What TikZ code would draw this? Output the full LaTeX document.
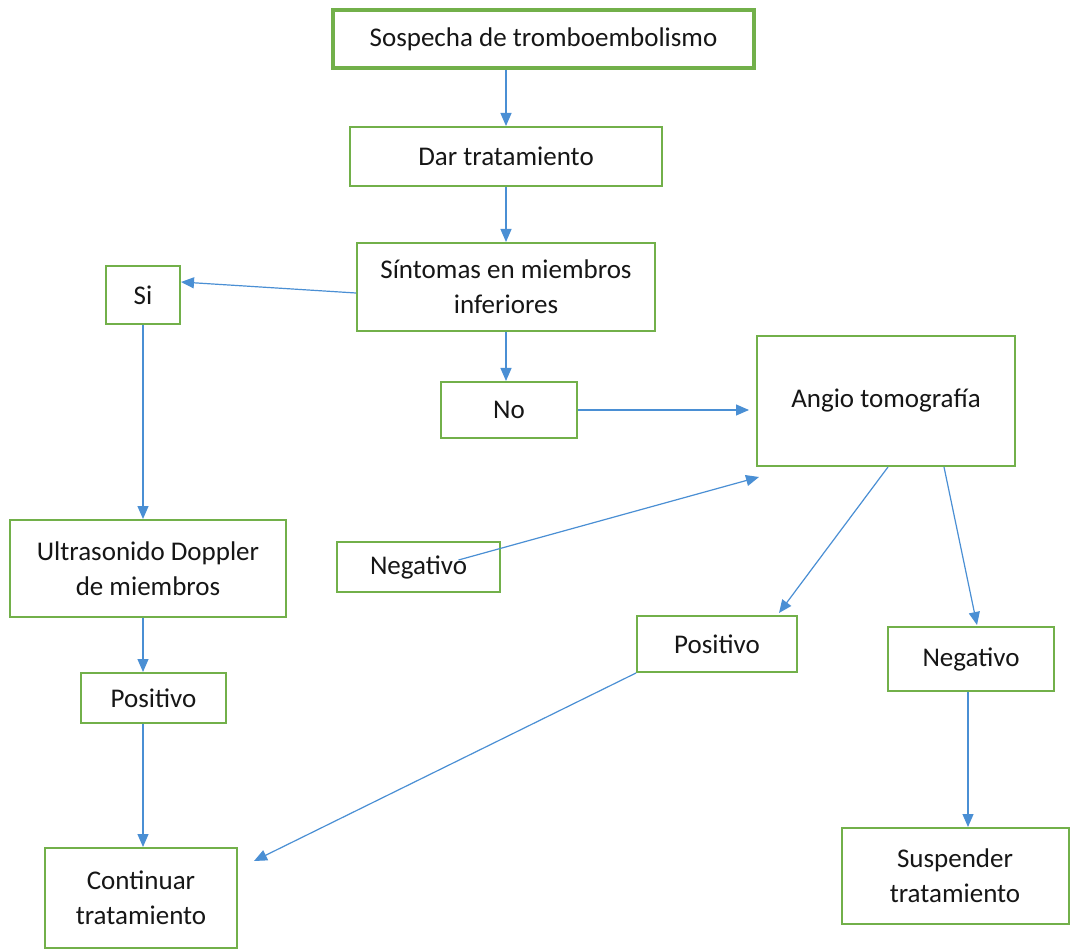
\documentclass[tikz,border=0pt]{standalone}
\usepackage{fontspec}
\setmainfont{Carlito}
\usetikzlibrary{arrows.meta,calc}
\definecolor{boxgreen}{HTML}{72B04A}
\definecolor{arrowblue}{HTML}{4A8FD4}
\definecolor{inktext}{HTML}{161616}
\begin{document}
\begin{tikzpicture}[x=1pt,y=-1pt,
  box/.style={draw=boxgreen, line width=2pt, fill=white, inner sep=0pt,
    align=center, text=inktext, font=\fontsize{27}{35}\selectfont},
  arr/.style={draw=arrowblue, line width=1.2pt,
    -{Triangle[length=13pt,width=11pt]}}]
  \useasboundingbox[fill=white] (0,0) rectangle (1076,949);

  % flowchart boxes
  \node[box, line width=3.5pt, minimum width=421pt, minimum height=58pt] (sosp) at (543.5,39) {Sospecha de tromboembolismo};
  \node[box, minimum width=312pt, minimum height=59pt] (dar) at (506,156.5) {Dar tratamiento};
  \node[box, minimum width=298pt, minimum height=88pt] (sint) at (506,287) {Síntomas en miembros\\inferiores};
  \node[box, minimum width=74pt, minimum height=58pt] (si) at (143,295) {Si};
  \node[box, minimum width=136pt, minimum height=56pt] (no) at (509,410) {No};
  \node[box, minimum width=258pt, minimum height=130pt] (angio) at (886,401) {Angio tomografía};
  \node[box, minimum width=276pt, minimum height=97pt] (ultra) at (148,568.5) {Ultrasonido Doppler\\de miembros};
  \node[box, minimum width=163pt, minimum height=50pt] (negL) at (418.5,567) {Negativo};
  \node[box, minimum width=160pt, minimum height=56pt] (posM) at (717,644) {Positivo};
  \node[box, minimum width=166pt, minimum height=64pt] (negR) at (971,659) {Negativo};
  \node[box, minimum width=145pt, minimum height=50pt] (posL) at (153.5,698) {Positivo};
  \node[box, minimum width=192pt, minimum height=100pt] (cont) at (141,898) {Continuar\\tratamiento};
  \node[box, minimum width=227pt, minimum height=96pt] (susp) at (955,876) {Suspender\\tratamiento};

  % connectors
  \draw[arr] (sosp.south -| dar.north) -- (dar.north);
  \draw[arr] (dar.south) -- (sint.north);
  \draw[arr] ($(sint.west)+(0,6)$) -- ($(si.east)+(0,-13)$);
  \draw[arr] (sint.south) -- (sint.south |- no.north);
  \draw[arr] (no.east) -- ($(angio.west |- no.east)+(-7,0)$);
  \draw[arr] ($(negL.center)+(40,-7)$) -- ($(angio.south west)+(3,10)$);
  \draw[arr] ($(angio.south)+(2,0)$) -- ($(posM.north east)+(-19,-2)$);
  \draw[arr] ($(angio.south)+(58,0)$) -- ($(negR.north)+(6,-1)$);
  \draw[arr] (si.south) -- (si.south |- ultra.north);
  \draw[arr] (si.south |- ultra.south) -- (si.south |- posL.north);
  \draw[arr] (si.south |- posL.south) -- (si.south |- cont.north);
  \draw[arr] (posM.south west) -- ($(cont.north east)+(16,14)$);
  \draw[arr] (negR.south -| susp.north) ++(13,0) -- ($(susp.north)+(13,0)$);
\end{tikzpicture}
\end{document}
